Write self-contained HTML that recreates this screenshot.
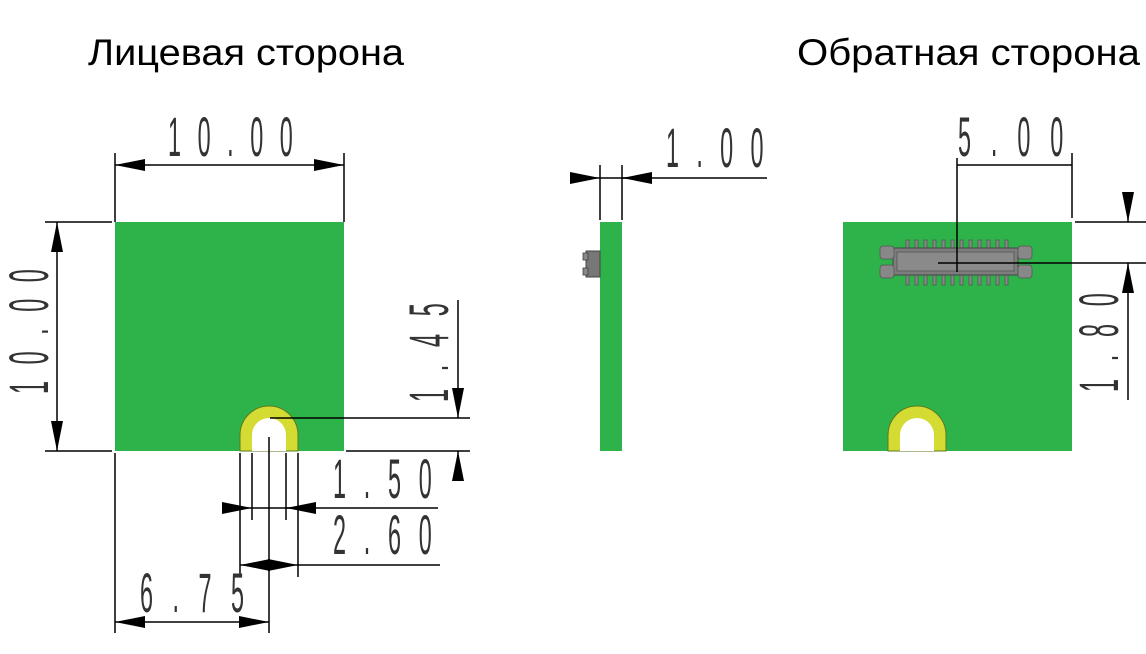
<!DOCTYPE html>
<html><head><meta charset="utf-8"><style>
html,body{margin:0;padding:0;background:#fff;}
svg{display:block;}
.d{font-family:"Liberation Sans",sans-serif;font-size:36px;fill:#333;font-weight:normal;}
.t{font-family:"Liberation Sans",sans-serif;font-size:37px;fill:#000;}
</style></head><body>
<svg width="1146" height="654" viewBox="0 0 1146 654" xmlns="http://www.w3.org/2000/svg">
<defs>
<marker id="a" viewBox="0 0 30 12" refX="30" refY="6" markerWidth="30" markerHeight="12" markerUnits="userSpaceOnUse" orient="auto-start-reverse"><path d="M0,0 L30,6 L0,12 Z" fill="#000"/></marker>
</defs>
<text class="t" x="88" y="65" textLength="316" lengthAdjust="spacingAndGlyphs">Лицевая сторона</text>
<text class="t" x="797" y="65" textLength="343" lengthAdjust="spacingAndGlyphs">Обратная сторона</text>

<rect x="115" y="222" width="229" height="229" fill="#2db34a"/>
<path d="M240,451 L240,435 A29,29 0 0 1 298,435 L298,451 Z" fill="#d4dc34" stroke="#5a7a20" stroke-width="1"/>
<path d="M252,451 L252,435 A17,17 0 0 1 286,435 L286,451 Z" fill="#fff"/>

<g stroke="#000" stroke-width="1.5" fill="none">
<line x1="115" y1="153" x2="115" y2="222"/>
<line x1="344" y1="153" x2="344" y2="222"/>
<line x1="115" y1="165" x2="344" y2="165" marker-start="url(#a)" marker-end="url(#a)"/>
<line x1="45" y1="222" x2="112" y2="222"/>
<line x1="45" y1="451" x2="112" y2="451"/>
<line x1="57" y1="222" x2="57" y2="451" marker-start="url(#a)" marker-end="url(#a)"/>
<line x1="270" y1="418" x2="470" y2="418"/>
<line x1="346" y1="451" x2="470" y2="451"/>
<line x1="458" y1="300" x2="458" y2="418" marker-end="url(#a)"/>
<line x1="458" y1="480" x2="458" y2="451" marker-end="url(#a)"/>
<line x1="240" y1="453" x2="240" y2="577"/>
<line x1="298" y1="453" x2="298" y2="577"/>
<line x1="252" y1="453" x2="252" y2="520"/>
<line x1="286" y1="453" x2="286" y2="520"/>
<line x1="269" y1="437" x2="269" y2="633"/>
<line x1="222" y1="508" x2="252" y2="508" marker-end="url(#a)"/>
<line x1="316" y1="508" x2="286" y2="508" marker-end="url(#a)"/>
<line x1="252" y1="508" x2="438" y2="508"/>
<line x1="269" y1="565" x2="240" y2="565" marker-end="url(#a)"/>
<line x1="269" y1="565" x2="298" y2="565" marker-end="url(#a)"/>
<line x1="298" y1="565" x2="440" y2="565"/>
<line x1="115" y1="453" x2="115" y2="633"/>
<line x1="115" y1="622" x2="269" y2="622" marker-start="url(#a)" marker-end="url(#a)"/>
</g>

<rect x="600" y="222" width="22" height="229" fill="#2db34a"/>
<rect x="586" y="251" width="14" height="26" fill="#777" stroke="#444" stroke-width="1"/>
<rect x="583" y="253" width="5" height="7" fill="#888" stroke="#444" stroke-width="0.8"/>
<rect x="583" y="268" width="5" height="7" fill="#888" stroke="#444" stroke-width="0.8"/>
<g stroke="#000" stroke-width="1.5" fill="none">
<line x1="600" y1="165" x2="600" y2="220"/>
<line x1="622" y1="165" x2="622" y2="220"/>
<line x1="572" y1="178" x2="600" y2="178" marker-end="url(#a)"/>
<line x1="652" y1="178" x2="622" y2="178" marker-end="url(#a)"/>
<line x1="600" y1="178" x2="767" y2="178"/>
</g>

<rect x="843" y="222" width="229" height="229" fill="#2db34a"/>
<path d="M888,451 L888,435 A29,29 0 0 1 946,435 L946,451 Z" fill="#d4dc34" stroke="#5a7a20" stroke-width="1"/>
<path d="M900,451 L900,435 A17,17 0 0 1 934,435 L934,451 Z" fill="#fff"/>
<g fill="#888" stroke="#555" stroke-width="0.8">
<rect x="906" y="240" width="3" height="8"/><rect x="915" y="240" width="3" height="8"/><rect x="924" y="240" width="3" height="8"/><rect x="933" y="240" width="3" height="8"/><rect x="942" y="240" width="3" height="8"/><rect x="951" y="240" width="3" height="8"/><rect x="960" y="240" width="3" height="8"/><rect x="969" y="240" width="3" height="8"/><rect x="978" y="240" width="3" height="8"/><rect x="987" y="240" width="3" height="8"/><rect x="996" y="240" width="3" height="8"/><rect x="1005" y="240" width="3" height="8"/>
<rect x="906" y="275" width="3" height="10"/><rect x="915" y="275" width="3" height="10"/><rect x="924" y="275" width="3" height="10"/><rect x="933" y="275" width="3" height="10"/><rect x="942" y="275" width="3" height="10"/><rect x="951" y="275" width="3" height="10"/><rect x="960" y="275" width="3" height="10"/><rect x="969" y="275" width="3" height="10"/><rect x="978" y="275" width="3" height="10"/><rect x="987" y="275" width="3" height="10"/><rect x="996" y="275" width="3" height="10"/><rect x="1005" y="275" width="3" height="10"/>
<rect x="893" y="248" width="125" height="27" fill="#7d7d7d" stroke="#444" stroke-width="1"/>
<rect x="897" y="252" width="117" height="19" fill="#8a8a8a" stroke="#555" stroke-width="0.8"/>
<rect x="880" y="246" width="14" height="13" rx="3"/><rect x="880" y="265" width="14" height="13" rx="3"/>
<rect x="1018" y="246" width="14" height="13" rx="3"/><rect x="1018" y="265" width="14" height="13" rx="3"/>
</g>
<g stroke="#000" stroke-width="1.5" fill="none">
<line x1="957" y1="158" x2="957" y2="272"/>
<line x1="1072" y1="153" x2="1072" y2="218"/>
<line x1="957" y1="165" x2="1072" y2="165"/>
<line x1="1075" y1="222" x2="1146" y2="222"/>
<line x1="938" y1="263" x2="1146" y2="263"/>
<line x1="1128" y1="193" x2="1128" y2="222" marker-end="url(#a)"/>
<line x1="1128" y1="400" x2="1128" y2="263" marker-end="url(#a)"/>
</g>

<g class="d">
<text x="0" y="0" transform="translate(168,156) scale(0.65,1.55)" textLength="192" lengthAdjust="spacing">10.00</text>
<text x="0" y="0" transform="translate(48,394) rotate(-90) scale(0.65,1.55)" textLength="192" lengthAdjust="spacing">10.00</text>
<text x="0" y="0" transform="translate(448,402) rotate(-90) scale(0.65,1.55)" textLength="152" lengthAdjust="spacing">1.45</text>
<text x="0" y="0" transform="translate(333,498) scale(0.65,1.55)" textLength="152" lengthAdjust="spacing">1.50</text>
<text x="0" y="0" transform="translate(333,554) scale(0.65,1.55)" textLength="152" lengthAdjust="spacing">2.60</text>
<text x="0" y="0" transform="translate(140,612) scale(0.65,1.55)" textLength="160" lengthAdjust="spacing">6.75</text>
<text x="0" y="0" transform="translate(666,167) scale(0.65,1.55)" textLength="150" lengthAdjust="spacing">1.00</text>
<text x="0" y="0" transform="translate(958,156) scale(0.65,1.55)" textLength="162" lengthAdjust="spacing">5.00</text>
<text x="0" y="0" transform="translate(1118,392) rotate(-90) scale(0.65,1.55)" textLength="152" lengthAdjust="spacing">1.80</text>
</g>
</svg>
</body></html>
